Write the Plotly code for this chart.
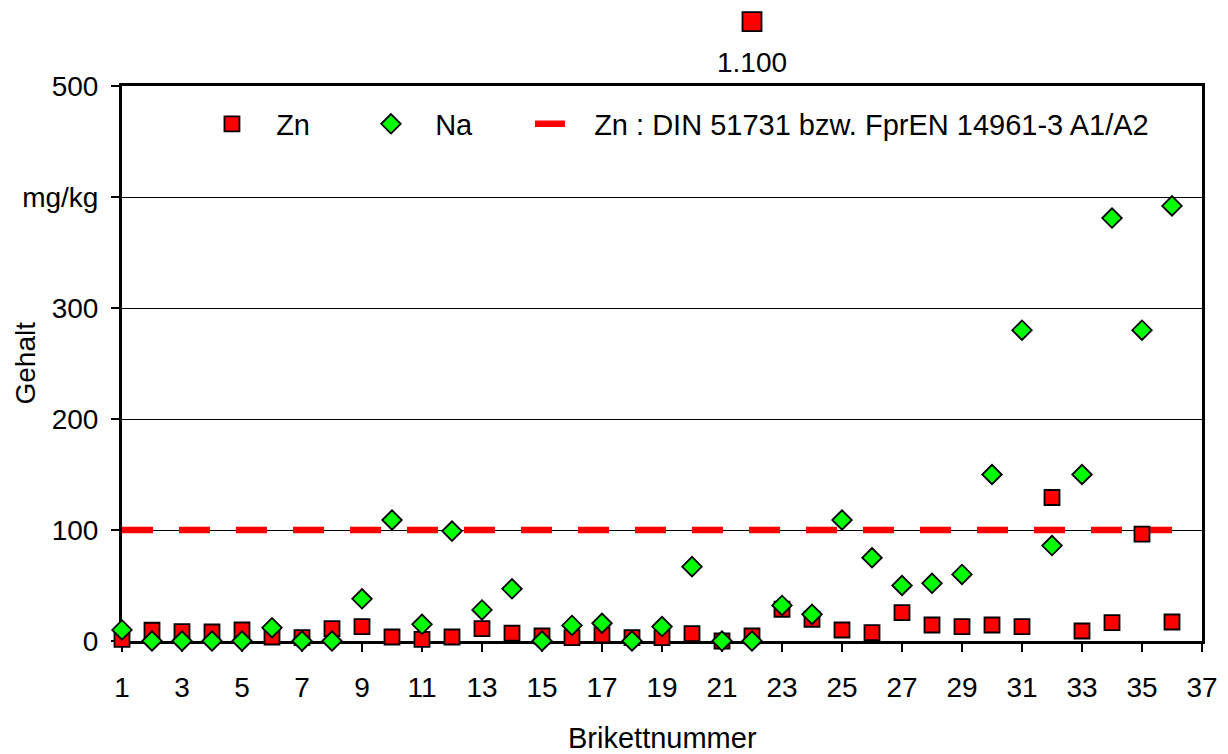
import plotly.graph_objects as go

# ---- data ----
BRIKETT = list(range(1, 37))

ZN = [1.5, 9.7, 8.4, 8.1, 9.9, 3.6, 3, 11.1, 12.9, 3.6,
      1.5, 3.6, 11.1, 7, 4.5, 3, 5.4, 3, 3, 6.6,
      0, 4.5, 28.6, 19.6, 9.9, 7.5, 25.5, 14.4, 12.9, 14.4,
      12.9, 129.3, 9, 16.5, 96.3, 17.1]

NA = [10, 0, 0, 0, 0, 12, 0, 0, 38, 109,
      15, 99, 28, 47, 0, 14, 16, 0, 13, 67,
      0, 0, 32, 24, 109, 75, 50, 52, 60, 150,
      280, 86, 150, 381, 280, 392]

ZN_OUTLIER_X = [22]
ZN_OUTLIER_VALUE = [1100]

LIMIT_VALUE = 100
LIMIT_NAME = "Zn : DIN 51731 bzw. FprEN 14961-3 A1/A2"

Y_TICKVALS = [0, 100, 200, 300, 400, 500]
Y_TICKTEXT = ["0", "100", "200", "300", "mg/kg", "500"]
X_TICKVALS = list(range(1, 38, 2))

Y_MAX = 500
X_MIN, X_MAX = 1, 37
BREAK_RANGE = [1000, 1121]   # upper (broken-axis) panel holding the off-scale value

FONT = "Liberation Sans, Arial, sans-serif"
PAD = "\u00a0\u00a0\u00a0"

W, H = 1220, 746
M_L, M_R, M_T, M_B = 114, 26, 0, 113
MAIN_H = 555
main_top = MAIN_H / (H - M_T - M_B)

fig = go.Figure()

# limit line (drawn first, so markers lie on top of it)
fig.add_trace(go.Scatter(
    x=[BRIKETT[0], BRIKETT[-1]], y=[LIMIT_VALUE, LIMIT_VALUE],
    mode="lines", name=PAD + LIMIT_NAME, legendrank=3,
    line=dict(color="#FF0000", width=6.5, dash="31px,26px"),
    hoverinfo="skip",
))

fig.add_trace(go.Scatter(
    x=BRIKETT, y=ZN, mode="markers", name=PAD + "Zn", legendrank=1,
    legendwidth=114,
    marker=dict(symbol="square", size=15, color="#FF0000",
                line=dict(color="black", width=1.8)),
    cliponaxis=False,
))

fig.add_trace(go.Scatter(
    x=BRIKETT, y=NA, mode="markers", name=PAD + "Na", legendrank=2,
    legendwidth=114,
    marker=dict(symbol="diamond", size=15, color="#00FF00",
                line=dict(color="black", width=1.8)),
    cliponaxis=False,
))

# off-scale Zn value, shown in an upper broken-axis panel
fig.add_trace(go.Scatter(
    x=ZN_OUTLIER_X, y=ZN_OUTLIER_VALUE, xaxis="x", yaxis="y2", mode="markers",
    marker=dict(symbol="square", size=19, color="#FF0000",
                line=dict(color="black", width=1.8)),
    cliponaxis=False, showlegend=False,
    hovertemplate="Zn: %{y}<extra></extra>",
))
for xv, yv in zip(ZN_OUTLIER_X, ZN_OUTLIER_VALUE):
    fig.add_annotation(
        x=xv, y=yv, xref="x", yref="y2",
        text=f"{yv:,}".replace(",", "."), showarrow=False,
        yshift=-41, font=dict(size=28, color="black", family=FONT),
    )

# axis titles
fig.add_annotation(
    x=-0.0898, y=0.5, xref="x domain", yref="y domain", text="Gehalt",
    textangle=-90, showarrow=False, xanchor="center", yanchor="middle",
    font=dict(size=28, color="black", family=FONT),
)
fig.add_annotation(
    x=0.5, y=-0.1748, xref="x domain", yref="y domain", text="Brikettnummer",
    showarrow=False, xanchor="center", yanchor="middle",
    font=dict(size=29, color="black", family=FONT),
)

fig.update_layout(
    template="none",
    width=W, height=H,
    margin=dict(l=M_L, r=M_R, t=M_T, b=M_B, pad=0, autoexpand=False),
    paper_bgcolor="white", plot_bgcolor="white",
    font=dict(family=FONT, size=28, color="black"),
    showlegend=True,
    legend=dict(
        orientation="h", x=0.0833, xanchor="left",
        y=(H - M_B - 116) / (H - M_T - M_B), yanchor="middle",
        bgcolor="rgba(0,0,0,0)", borderwidth=0,
        font=dict(size=29, family=FONT, color="black"),
        traceorder="normal",
    ),
    xaxis=dict(
        range=[X_MIN, X_MAX], tickmode="array", tickvals=X_TICKVALS,
        showgrid=False, zeroline=False, automargin=False,
        showline=True, linecolor="black", linewidth=3, mirror=True,
        ticks="outside", ticklen=8, tickwidth=1.5, tickcolor="black",
        ticklabelstandoff=11, layer="below traces",
        tickfont=dict(size=28, family=FONT, color="black"),
    ),
    yaxis=dict(
        domain=[0, main_top], automargin=False,
        range=[0, Y_MAX], tickmode="array", tickvals=Y_TICKVALS, ticktext=Y_TICKTEXT,
        showgrid=True, gridcolor="black", gridwidth=1.3, zeroline=False,
        showline=True, linecolor="black", linewidth=3, mirror=True,
        ticks="outside", ticklen=8, tickwidth=1.5, tickcolor="black",
        ticklabelstandoff=7, layer="below traces",
        tickfont=dict(size=28, family=FONT, color="black"),
    ),
    yaxis2=dict(
        domain=[main_top, 1], range=BREAK_RANGE, anchor="x", visible=False,
        showgrid=False, zeroline=False, automargin=False,
    ),
)

fig.write_html("out.html")
